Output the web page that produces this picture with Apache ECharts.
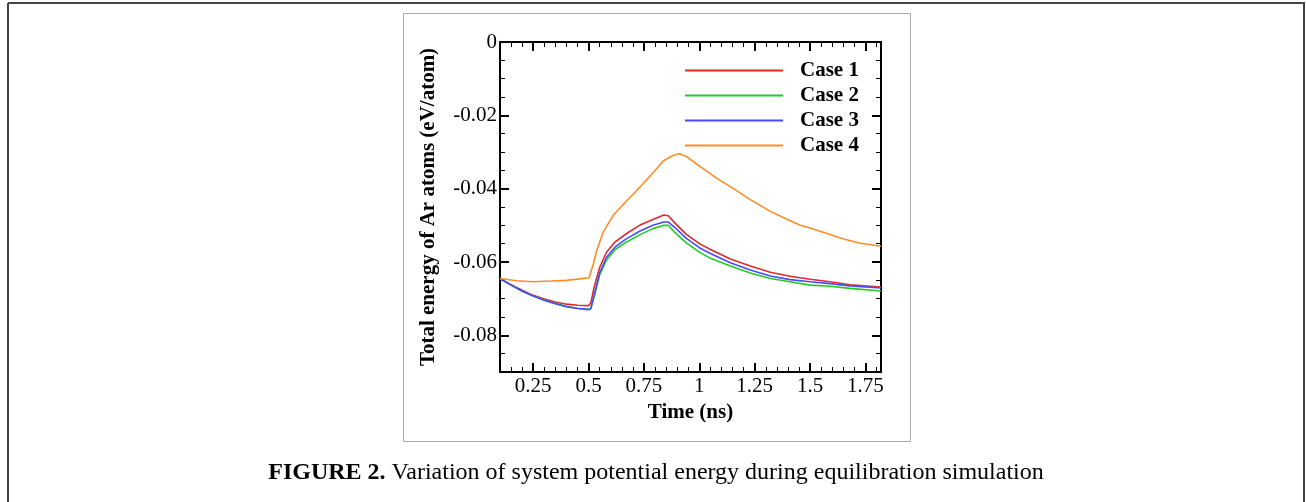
<!DOCTYPE html>
<html>
<head>
<meta charset="utf-8">
<script src="https://cdn.jsdelivr.net/npm/echarts@6/dist/echarts.min.js"></script>
<style>
  html, body { margin: 0; padding: 0; background: #fff; }
  #chart { width: 1306px; height: 502px; }
</style>
</head>
<body>
<div id="chart"></div>
<script>
// ---- Data ----
var legendNames = ['Case 1', 'Case 2', 'Case 3', 'Case 4'];

var timeA = [0.1, 0.15, 0.2, 0.25, 0.3, 0.35, 0.4, 0.45, 0.5, 0.51, 0.525, 0.55, 0.58, 0.62, 0.67, 0.73, 0.79, 0.84, 0.86, 0.89, 0.94, 1.0, 1.05, 1.14, 1.23, 1.32, 1.41, 1.5, 1.59, 1.68, 1.82];
var case1Energy = [-0.0645, -0.0662, -0.0677, -0.0691, -0.0701, -0.0709, -0.0715, -0.0718, -0.0719, -0.0712, -0.0668, -0.0615, -0.0574, -0.0545, -0.0523, -0.0500, -0.0484, -0.0472, -0.0474, -0.0494, -0.0524, -0.0550, -0.0566, -0.0592, -0.0611, -0.0628, -0.0639, -0.0647, -0.0654, -0.0662, -0.0668];
var case2Energy = [-0.0645, -0.0663, -0.0680, -0.0693, -0.0704, -0.0713, -0.0721, -0.0726, -0.0729, -0.0727, -0.0695, -0.0635, -0.0595, -0.0566, -0.0546, -0.0526, -0.0509, -0.0500, -0.0500, -0.0520, -0.0547, -0.0573, -0.0590, -0.0611, -0.0630, -0.0645, -0.0654, -0.0663, -0.0666, -0.0672, -0.0679];
var case3Energy = [-0.0645, -0.0663, -0.0679, -0.0693, -0.0704, -0.0714, -0.0722, -0.0727, -0.0730, -0.0727, -0.0690, -0.0630, -0.0588, -0.0559, -0.0537, -0.0516, -0.0500, -0.0491, -0.0491, -0.0506, -0.0535, -0.0561, -0.0577, -0.0602, -0.0622, -0.0638, -0.0648, -0.0654, -0.0659, -0.0665, -0.0671];

var timeB = [0.1, 0.175, 0.25, 0.33, 0.4, 0.46, 0.502, 0.522, 0.537, 0.567, 0.612, 0.672, 0.733, 0.793, 0.838, 0.883, 0.91, 0.943, 1.004, 1.079, 1.154, 1.23, 1.32, 1.40, 1.456, 1.50, 1.576, 1.651, 1.727, 1.82];
var case4Energy = [-0.0645, -0.0651, -0.0654, -0.0652, -0.0650, -0.0646, -0.0643, -0.0604, -0.0568, -0.0517, -0.0472, -0.0433, -0.0395, -0.0355, -0.0324, -0.0309, -0.0305, -0.0313, -0.0340, -0.0372, -0.0400, -0.0430, -0.0462, -0.0485, -0.0500, -0.0507, -0.0522, -0.0537, -0.0549, -0.0557];

var xMajorTicks = [0.25, 0.5, 0.75, 1, 1.25, 1.5, 1.75];
var xMinorTicks = [0.15, 0.2, 0.3, 0.35, 0.4, 0.45, 0.55, 0.6, 0.65, 0.7, 0.8, 0.85, 0.9, 0.95, 1.05, 1.1, 1.15, 1.2, 1.3, 1.35, 1.4, 1.45, 1.55, 1.6, 1.65, 1.7, 1.8];
var yMajorTicks = [0, -0.02, -0.04, -0.06, -0.08];
var yMinorTicks = [-0.005, -0.01, -0.015, -0.025, -0.03, -0.035, -0.045, -0.05, -0.055, -0.065, -0.07, -0.075, -0.085];

var colors = ['#dd2a2a', '#22cc22', '#4a4aff', '#ff8c24'];

function pairs(t, v) { return t.map(function (x, i) { return [x, v[i]]; }); }

var serif = 'Liberation Serif';
var X_MIN = 0.1, X_MAX = 1.82, Y_MIN = -0.09, Y_MAX = 0;

function xAxisDef(pos, values, len, withLabel, withLine) {
  return {
    type: 'value', gridIndex: 0, position: pos, min: X_MIN, max: X_MAX,
    axisLine: { show: withLine, onZero: false, lineStyle: { color: '#000', width: 2 } },
    axisTick: { show: true, inside: true, length: len, customValues: values, lineStyle: { color: '#000', width: len > 6 ? 2 : 1 } },
    axisLabel: withLabel ? { show: true, customValues: values, margin: 4, color: '#000', fontFamily: serif, fontSize: 21 } : { show: false },
    splitLine: { show: false },
    name: withLabel ? 'Time (ns)' : '',
    nameLocation: 'middle', nameGap: 29,
    nameTextStyle: { color: '#000', fontFamily: serif, fontSize: 21, fontWeight: 'bold' }
  };
}
function yAxisDef(pos, values, len, withLabel, withLine) {
  return {
    type: 'value', gridIndex: 0, position: pos, min: Y_MIN, max: Y_MAX,
    axisLine: { show: withLine, onZero: false, lineStyle: { color: '#000', width: 2 } },
    axisTick: { show: true, inside: true, length: len, customValues: values, lineStyle: { color: '#000', width: len > 6 ? 2 : 1 } },
    axisLabel: withLabel ? { show: true, customValues: values, margin: 3, color: '#000', fontFamily: serif, fontSize: 21 } : { show: false },
    splitLine: { show: false },
    name: withLabel ? 'Total energy of Ar atoms (eV/atom)' : '',
    nameLocation: 'middle', nameGap: 61, nameRotate: 90,
    nameTextStyle: { color: '#000', fontFamily: serif, fontSize: 21, fontWeight: 'bold' }
  };
}

var chart = echarts.init(document.getElementById('chart'), null, { renderer: 'canvas' });
chart.setOption({
  backgroundColor: '#fff',
  animation: false,
  grid: { left: 500, top: 42, width: 381, height: 330 },
  legend: {
    data: legendNames, orient: 'vertical', left: 680, top: 55,
    icon: 'rect', itemWidth: 98, itemHeight: 2, itemGap: 4,
    textStyle: { color: '#000', fontFamily: serif, fontSize: 21, fontWeight: 'bold', lineHeight: 21, padding: [0, 0, 0, 12] }
  },
  xAxis: [
    xAxisDef('bottom', xMajorTicks, 9, true, true),
    xAxisDef('bottom', xMinorTicks, 5, false, false),
    xAxisDef('top', xMajorTicks, 9, false, true),
    xAxisDef('top', xMinorTicks, 5, false, false)
  ],
  yAxis: [
    yAxisDef('left', yMajorTicks, 9, true, true),
    yAxisDef('left', yMinorTicks, 5, false, false),
    yAxisDef('right', yMajorTicks, 9, false, true),
    yAxisDef('right', yMinorTicks, 5, false, false)
  ],
  series: [
    { name: legendNames[0], type: 'line', data: pairs(timeA, case1Energy) },
    { name: legendNames[1], type: 'line', data: pairs(timeA, case2Energy) },
    { name: legendNames[2], type: 'line', data: pairs(timeA, case3Energy) },
    { name: legendNames[3], type: 'line', data: pairs(timeB, case4Energy) }
  ].map(function (s, i) {
    s.xAxisIndex = 0; s.yAxisIndex = 0;
    s.symbol = 'none'; s.smooth = false;
    s.color = colors[i];
    s.lineStyle = { color: colors[i], width: 1.6 };
    s.itemStyle = { color: colors[i] };
    return s;
  }),
  graphic: [
    { type: 'line', shape: { x1: 8, y1: 3, x2: 1305, y2: 3 }, style: { stroke: '#444', lineWidth: 2 } },
    { type: 'line', shape: { x1: 8, y1: 3, x2: 8, y2: 502 }, style: { stroke: '#444', lineWidth: 2 } },
    { type: 'line', shape: { x1: 1304, y1: 3, x2: 1304, y2: 502 }, style: { stroke: '#444', lineWidth: 2 } },
    { type: 'rect', shape: { x: 403.5, y: 13.5, width: 507, height: 428 }, style: { fill: 'none', stroke: '#aaa', lineWidth: 1 } },
    {
      type: 'text', x: 656, y: 473,
      style: {
        text: '{b|FIGURE 2.} Variation of system potential energy during equilibration simulation',
        textAlign: 'center', textVerticalAlign: 'middle',
        fontFamily: serif, fontSize: 24, fill: '#000',
        rich: { b: { fontFamily: serif, fontSize: 24, fontWeight: 'bold', fill: '#000' } }
      }
    }
  ]
});
</script>
</body>
</html>
